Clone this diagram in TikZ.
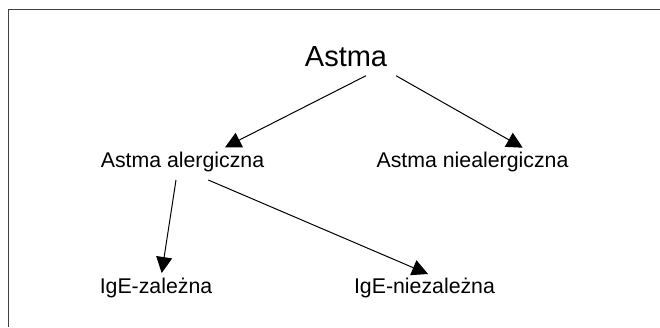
\documentclass[tikz,border=0pt]{standalone}
\usepackage{fontspec}
\setmainfont{Liberation Sans}
\usetikzlibrary{arrows.meta}

\tikzset{
  frameline/.style={line width=1.5pt, draw=black!75},
  label/.style={anchor=base, inner sep=0pt, font=\fontsize{21.3}{25}\selectfont},
  title/.style={anchor=base, inner sep=0pt, font=\fontsize{29}{34}\selectfont},
  link/.style={line width=1pt, -{Triangle[length=16pt,width=16pt]}}
}

\begin{document}
\begin{tikzpicture}[x=1pt, y=-1pt]
  \useasboundingbox (0,0) rectangle (660,327);

  % open frame: left and top edges
  \draw[frameline] (8.5,327) -- (8.5,9.5) -- (660,9.5);

  % categories
  \node[title] (astma) at (346,66) {Astma};
  \node[label] (alerg) at (182.5,167) {Astma alergiczna};
  \node[label] (nalerg) at (472.5,167) {Astma niealergiczna};
  \node[label] (ige) at (156,293) {IgE-zależna};
  \node[label] (nige) at (424.5,293) {IgE-niezależna};

  % hierarchy arrows
  \draw[link] ([shift={(20,9.7)}]astma.base) -- ([shift={(42.5,-19.7)}]alerg.base);
  \draw[link] ([shift={(50,9.7)}]astma.base) -- ([shift={(50.2,-19.3)}]nalerg.base);
  \draw[link] ([shift={(-6.5,13)}]alerg.base) -- ([shift={(5.7,-20)}]ige.base);
  \draw[link] ([shift={(25.8,13)}]alerg.base) -- ([shift={(3.5,-19)}]nige.base);
\end{tikzpicture}
\end{document}
